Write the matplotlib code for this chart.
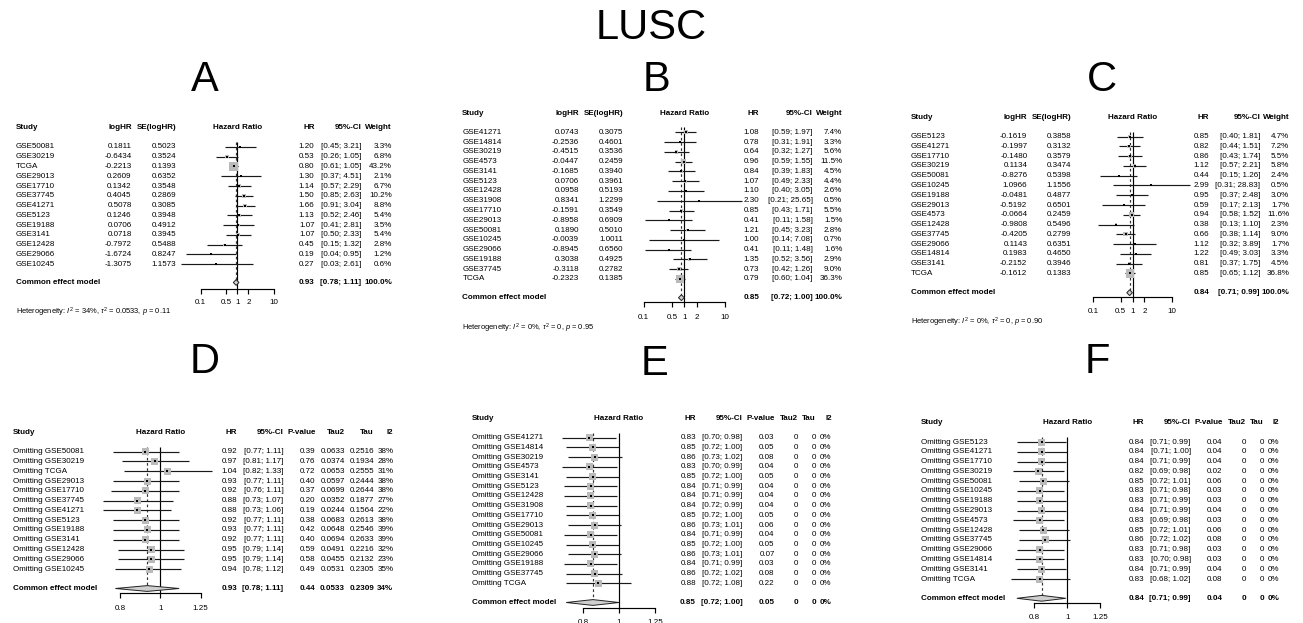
import numpy as np
import matplotlib
matplotlib.use("Agg")
import matplotlib.pyplot as plt
from matplotlib.patches import Polygon
from matplotlib.ticker import NullLocator, FixedLocator

plt.rcParams['font.family'] = ['Liberation Sans', 'DejaVu Sans']
plt.rcParams['mathtext.fontset'] = 'custom'
plt.rcParams['mathtext.rm'] = 'Liberation Sans'
plt.rcParams['mathtext.it'] = 'Liberation Sans:italic'
plt.rcParams['mathtext.bf'] = 'Liberation Sans:bold'

# ---------------- data: pooled meta-analyses ----------------
a_studies = ["GSE50081", "GSE30219", "TCGA", "GSE29013", "GSE17710", "GSE37745", "GSE41271",
             "GSE5123", "GSE19188", "GSE3141", "GSE12428", "GSE29066", "GSE10245"]
a_loghr = [0.1811, -0.6434, -0.2213, 0.2609, 0.1342, 0.4045, 0.5078, 0.1246, 0.0706, 0.0718,
           -0.7972, -1.6724, -1.3075]
a_se = [0.5023, 0.3524, 0.1393, 0.6352, 0.3548, 0.2869, 0.3085, 0.3948, 0.4912, 0.3945,
        0.5488, 0.8247, 1.1573]
a_hr = [1.20, 0.53, 0.80, 1.30, 1.14, 1.50, 1.66, 1.13, 1.07, 1.07, 0.45, 0.19, 0.27]
a_lo = [0.45, 0.26, 0.61, 0.37, 0.57, 0.85, 0.91, 0.52, 0.41, 0.50, 0.15, 0.04, 0.03]
a_hi = [3.21, 1.05, 1.05, 4.51, 2.29, 2.63, 3.04, 2.46, 2.81, 2.33, 1.32, 0.95, 2.61]
a_weight = [3.3, 6.8, 43.2, 2.1, 6.7, 10.2, 8.8, 5.4, 3.5, 5.4, 2.8, 1.2, 0.6]
a_pooled = [0.93, 0.78, 1.11]
a_het = [34, 0.0533, 0.11]

b_studies = ["GSE41271", "GSE14814", "GSE30219", "GSE4573", "GSE3141", "GSE5123", "GSE12428",
             "GSE31908", "GSE17710", "GSE29013", "GSE50081", "GSE10245", "GSE29066", "GSE19188",
             "GSE37745", "TCGA"]
b_loghr = [0.0743, -0.2536, -0.4515, -0.0447, -0.1685, 0.0706, 0.0958, 0.8341, -0.1591, -0.8958,
           0.1890, -0.0039, -0.8945, 0.3038, -0.3118, -0.2323]
b_se = [0.3075, 0.4601, 0.3536, 0.2459, 0.3940, 0.3961, 0.5193, 1.2299, 0.3549, 0.6909,
        0.5010, 1.0011, 0.6560, 0.4925, 0.2782, 0.1385]
b_hr = [1.08, 0.78, 0.64, 0.96, 0.84, 1.07, 1.10, 2.30, 0.85, 0.41, 1.21, 1.00, 0.41, 1.35, 0.73, 0.79]
b_lo = [0.59, 0.31, 0.32, 0.59, 0.39, 0.49, 0.40, 0.21, 0.43, 0.11, 0.45, 0.14, 0.11, 0.52, 0.42, 0.60]
b_hi = [1.97, 1.91, 1.27, 1.55, 1.83, 2.33, 3.05, 25.65, 1.71, 1.58, 3.23, 7.08, 1.48, 3.56, 1.26, 1.04]
b_weight = [7.4, 3.3, 5.6, 11.5, 4.5, 4.4, 2.6, 0.5, 5.5, 1.5, 2.8, 0.7, 1.6, 2.9, 9.0, 36.3]
b_pooled = [0.85, 0.72, 1.00]
b_het = [0, 0, 0.95]

c_studies = ["GSE5123", "GSE41271", "GSE17710", "GSE30219", "GSE50081", "GSE10245", "GSE19188",
             "GSE29013", "GSE4573", "GSE12428", "GSE37745", "GSE29066", "GSE14814", "GSE3141", "TCGA"]
c_loghr = [-0.1619, -0.1997, -0.1480, 0.1134, -0.8276, 1.0966, -0.0481, -0.5192, -0.0664, -0.9808,
           -0.4205, 0.1143, 0.1983, -0.2152, -0.1612]
c_se = [0.3858, 0.3132, 0.3579, 0.3474, 0.5398, 1.1556, 0.4877, 0.6501, 0.2459, 0.5496,
        0.2799, 0.6351, 0.4650, 0.3946, 0.1383]
c_hr = [0.85, 0.82, 0.86, 1.12, 0.44, 2.99, 0.95, 0.59, 0.94, 0.38, 0.66, 1.12, 1.22, 0.81, 0.85]
c_lo = [0.40, 0.44, 0.43, 0.57, 0.15, 0.31, 0.37, 0.17, 0.58, 0.13, 0.38, 0.32, 0.49, 0.37, 0.65]
c_hi = [1.81, 1.51, 1.74, 2.21, 1.26, 28.83, 2.48, 2.13, 1.52, 1.10, 1.14, 3.89, 3.03, 1.75, 1.12]
c_weight = [4.7, 7.2, 5.5, 5.8, 2.4, 0.5, 3.0, 1.7, 11.6, 2.3, 9.0, 1.7, 3.3, 4.5, 36.8]
c_pooled = [0.84, 0.71, 0.99]
c_het = [0, 0, 0.90]

# ---------------- data: leave-one-out analyses ----------------
d_studies = ["GSE50081", "GSE30219", "TCGA", "GSE29013", "GSE17710", "GSE37745", "GSE41271",
             "GSE5123", "GSE19188", "GSE3141", "GSE12428", "GSE29066", "GSE10245"]
d_hr = [0.92, 0.97, 1.04, 0.93, 0.92, 0.88, 0.88, 0.92, 0.93, 0.92, 0.95, 0.95, 0.94]
d_lo = [0.77, 0.81, 0.82, 0.77, 0.76, 0.73, 0.73, 0.77, 0.77, 0.77, 0.79, 0.79, 0.78]
d_hi = [1.11, 1.17, 1.33, 1.11, 1.11, 1.07, 1.06, 1.11, 1.11, 1.11, 1.14, 1.14, 1.12]
d_p = [0.39, 0.76, 0.72, 0.40, 0.37, 0.20, 0.19, 0.38, 0.42, 0.40, 0.59, 0.58, 0.49]
d_tau2 = [0.0633, 0.0374, 0.0653, 0.0597, 0.0699, 0.0352, 0.0244, 0.0683, 0.0648, 0.0694,
          0.0491, 0.0455, 0.0531]
d_tau = [0.2516, 0.1934, 0.2555, 0.2444, 0.2644, 0.1877, 0.1564, 0.2613, 0.2546, 0.2633,
         0.2216, 0.2132, 0.2305]
d_i2 = [38, 28, 31, 38, 38, 27, 22, 38, 39, 39, 32, 23, 35]
d_pooled = [0.93, 0.78, 1.11, 0.44, 0.0533, 0.2309, 34]

e_studies = ["GSE41271", "GSE14814", "GSE30219", "GSE4573", "GSE3141", "GSE5123", "GSE12428",
             "GSE31908", "GSE17710", "GSE29013", "GSE50081", "GSE10245", "GSE29066", "GSE19188",
             "GSE37745", "TCGA"]
e_hr = [0.83, 0.85, 0.86, 0.83, 0.85, 0.84, 0.84, 0.84, 0.85, 0.86, 0.84, 0.85, 0.86, 0.84, 0.86, 0.88]
e_lo = [0.70, 0.72, 0.73, 0.70, 0.72, 0.71, 0.71, 0.72, 0.72, 0.73, 0.71, 0.72, 0.73, 0.71, 0.72, 0.72]
e_hi = [0.98, 1.00, 1.02, 0.99, 1.00, 0.99, 0.99, 0.99, 1.00, 1.01, 0.99, 1.00, 1.01, 0.99, 1.02, 1.08]
e_p = [0.03, 0.05, 0.08, 0.04, 0.05, 0.04, 0.04, 0.04, 0.05, 0.06, 0.04, 0.05, 0.07, 0.03, 0.08, 0.22]
e_tau2 = [0] * 16
e_tau = [0] * 16
e_i2 = [0] * 16
e_pooled = [0.85, 0.72, 1.00, 0.05, 0, 0, 0]

f_studies = ["GSE5123", "GSE41271", "GSE17710", "GSE30219", "GSE50081", "GSE10245", "GSE19188",
             "GSE29013", "GSE4573", "GSE12428", "GSE37745", "GSE29066", "GSE14814", "GSE3141", "TCGA"]
f_hr = [0.84, 0.84, 0.84, 0.82, 0.85, 0.83, 0.83, 0.84, 0.83, 0.85, 0.86, 0.83, 0.83, 0.84, 0.83]
f_lo = [0.71, 0.71, 0.71, 0.69, 0.72, 0.71, 0.71, 0.71, 0.69, 0.72, 0.72, 0.71, 0.70, 0.71, 0.68]
f_hi = [0.99, 1.00, 0.99, 0.98, 1.01, 0.98, 0.99, 0.99, 0.98, 1.01, 1.02, 0.98, 0.98, 0.99, 1.02]
f_p = [0.04, 0.04, 0.04, 0.02, 0.06, 0.03, 0.03, 0.04, 0.03, 0.06, 0.08, 0.03, 0.03, 0.04, 0.08]
f_tau2 = [0] * 15
f_tau = [0] * 15
f_i2 = [0] * 15
f_pooled = [0.84, 0.71, 0.99, 0.04, 0, 0, 0]

wide_ticks = [0.1, 0.5, 1, 2, 10]
narrow_ticks = [0.8, 1, 1.25]

# ---------------- figure setup ----------------
W, H = 1303, 623
FS = 5.8
LW = 0.85
fig = plt.figure(figsize=(W / 100, H / 100), dpi=100)
ov = fig.add_axes([0, 0, 1, 1])
ov.set_xlim(0, W)
ov.set_ylim(H, 0)
ov.axis('off')


def tx(x, y, s, ha='left', bold=False, size=FS, va='center'):
    ov.text(x, y, s, ha=ha, va=va, fontsize=size,
            fontweight='bold' if bold else 'normal', color='black')


def fmt_ci(lo, hi):
    return f"[{lo:.2f}; {hi:.2f}]"


def fmt_tau(v):
    return "0" if v == 0 else f"{v:.4f}"


def forest_axes(lay):
    xl, xr, yt, yb = lay['xl'], lay['xr'], lay['yt'], lay['yb']
    x1, k, y0, dy = lay['x1'], lay['k'], lay['y0'], lay['dy']
    ax = fig.add_axes([xl / W, 1 - yb / H, (xr - xl) / W, (yb - yt) / H])
    ax.set_xscale('log')
    ax.set_xlim(10 ** ((xl - x1) / k), 10 ** ((xr - x1) / k))
    ax.set_ylim((yb - y0) / dy, (yt - y0) / dy)
    ax.patch.set_visible(False)
    for s in ('top', 'left', 'right'):
        ax.spines[s].set_visible(False)
    ax.yaxis.set_major_locator(NullLocator())
    ax.xaxis.set_minor_locator(NullLocator())
    return ax


def draw_marks(lay, hr, lo, hi, box_px, pooled, ticks):
    ax = forest_axes(lay)
    y0, dy = lay['y0'], lay['dy']
    rows = np.arange(len(hr))
    rc = (lay['yc'] - y0) / dy
    ra = (lay['ya'] - y0) / dy
    rl = (lay['yl'] - y0) / dy
    est, plo, phi = pooled[0], pooled[1], pooled[2]
    h = 2.9 / dy
    ax.vlines(1, -0.5, ra, colors='black', lw=LW, zorder=1, clip_on=False)
    ax.vlines(est, -0.5, rc - h, colors='#333333', lw=LW, linestyles=(0, (2.2, 2.2)),
              zorder=1, clip_on=False)
    ax.hlines(rows, lo, hi, colors='#1a1a1a', lw=LW, zorder=2, clip_on=False)
    ax.scatter(hr, rows, marker='s', s=(np.asarray(box_px) * 0.72) ** 2, c='#bababa',
               linewidths=0, zorder=3, clip_on=False)
    ax.scatter(hr, rows, marker='s', s=(1.4 * 0.72) ** 2, c='black', linewidths=0,
               zorder=4, clip_on=False)
    ax.add_patch(Polygon([(plo, rc), (est, rc - h), (phi, rc), (est, rc + h)], closed=True,
                         fc='#cfcfcf', ec='#222222', lw=0.7, zorder=3, clip_on=False))
    sp = ax.spines['bottom']
    sp.set_position(('data', ra))
    sp.set_bounds(ticks[0], ticks[-1])
    sp.set_linewidth(LW)
    ax.xaxis.set_major_locator(FixedLocator(ticks))
    ax.tick_params(axis='x', direction='out', length=3.3, width=LW, labelbottom=False)
    for t in ticks:
        ax.text(t, rl, f"{t:g}", ha='center', va='center', fontsize=FS, clip_on=False)


def meta_panel(lay, studies, loghr, se, hr, lo, hi, weight, pooled, het):
    c, hy, y0, dy = lay['cols'], lay['hy'], lay['y0'], lay['dy']
    tx(c['study'], hy, 'Study', 'left', True)
    tx(c['loghr'], hy, 'logHR', 'right', True)
    tx(c['se'], hy, 'SE(logHR)', 'right', True)
    tx(lay['x1'], hy, 'Hazard Ratio', 'center', True)
    tx(c['hr'], hy, 'HR', 'right', True)
    tx(c['ci'], hy, '95%-CI', 'right', True)
    tx(c['w'], hy, 'Weight', 'right', True)
    for i, name in enumerate(studies):
        y = y0 + i * dy
        tx(c['study'], y, name)
        tx(c['loghr'], y, f"{loghr[i]:.4f}", 'right')
        tx(c['se'], y, f"{se[i]:.4f}", 'right')
        tx(c['hr'], y, f"{hr[i]:.2f}", 'right')
        tx(c['ci'], y, fmt_ci(lo[i], hi[i]), 'right')
        tx(c['w'], y, f"{weight[i]:.1f}%", 'right')
    yc = lay['yc']
    tx(c['study'], yc, 'Common effect model', 'left', True)
    tx(c['hr'], yc, f"{pooled[0]:.2f}", 'right', True)
    tx(c['ci'], yc, fmt_ci(pooled[1], pooled[2]), 'right', True)
    tx(c['w'], yc, f"{100:.1f}%", 'right', True)
    tx(c['study'], lay['hety'],
       rf"Heterogeneity: $I^2$ = {het[0]}%, $\tau^2$ = {fmt_tau(het[1])}, $p$ = {het[2]:.2f}",
       'left', False, size=5.4)
    wmax = max(weight)
    box = [8.5 * np.sqrt(w / wmax) for w in weight]
    draw_marks(lay, hr, lo, hi, box, pooled, wide_ticks)


def loo_panel(lay, studies, hr, lo, hi, p, tau2, tau, i2, pooled):
    c, hy, y0, dy = lay['cols'], lay['hy'], lay['y0'], lay['dy']
    tx(c['study'], hy, 'Study', 'left', True)
    tx(lay['x1'], hy, 'Hazard Ratio', 'center', True)
    tx(c['hr'], hy, 'HR', 'right', True)
    tx(c['ci'], hy, '95%-CI', 'right', True)
    tx(c['p'], hy, 'P-value', 'right', True)
    tx(c['tau2'], hy, 'Tau2', 'right', True)
    tx(c['tau'], hy, 'Tau', 'right', True)
    tx(c['i2'], hy, 'I2', 'right', True)
    for i, name in enumerate(studies):
        y = y0 + i * dy
        tx(c['study'], y, f"Omitting {name}")
        tx(c['hr'], y, f"{hr[i]:.2f}", 'right')
        tx(c['ci'], y, fmt_ci(lo[i], hi[i]), 'right')
        tx(c['p'], y, f"{p[i]:.2f}", 'right')
        tx(c['tau2'], y, fmt_tau(tau2[i]), 'right')
        tx(c['tau'], y, fmt_tau(tau[i]), 'right')
        tx(c['i2'], y, f"{i2[i]}%", 'right')
    yc = lay['yc']
    tx(c['study'], yc, 'Common effect model', 'left', True)
    tx(c['hr'], yc, f"{pooled[0]:.2f}", 'right', True)
    tx(c['ci'], yc, fmt_ci(pooled[1], pooled[2]), 'right', True)
    tx(c['p'], yc, f"{pooled[3]:.2f}", 'right', True)
    tx(c['tau2'], yc, fmt_tau(pooled[4]), 'right', True)
    tx(c['tau'], yc, fmt_tau(pooled[5]), 'right', True)
    tx(c['i2'], yc, f"{pooled[6]}%", 'right', True)
    draw_marks(lay, hr, lo, hi, [7.0] * len(hr), pooled, narrow_ticks)


# ---------------- panel geometry (pixels) ----------------
lay_a = dict(cols=dict(study=15.7, loghr=131.7, se=176, hr=314.5, ci=361.5, w=392),
             hy=127.8, y0=146.9, dy=9.78, yc=282.5, ya=288.5, yl=302.5, hety=312.3,
             x1=237.3, k=36.8, xl=165, xr=305, yt=125, yb=310)
lay_b = dict(cols=dict(study=462.3, loghr=579, se=623.3, hr=759.3, ci=812.7, w=842.3),
             hy=113.5, y0=132.3, dy=9.78, yc=297.7, ya=301.8, yl=318, hety=328.7,
             x1=684.3, k=40.8, xl=630, xr=750, yt=110, yb=325)
lay_c = dict(cols=dict(study=910.7, loghr=1027.3, se=1071, hr=1209.3, ci=1260, w=1289.3),
             hy=117.5, y0=136.7, dy=9.76, yc=292.7, ya=297.0, yl=312, hety=322.7,
             x1=1132.6, k=39.2, xl=1080, xr=1200, yt=115, yb=320)
lay_d = dict(cols=dict(study=13.3, hr=237.3, ci=283.3, p=315.7, tau2=345, tau=374, i2=393.3),
             hy=432.3, y0=451.7, dy=9.78, yc=588.5, ya=592.8, yl=608.3,
             x1=160.3, k=416.0, xl=100, xr=220, yt=430, yb=615)
lay_e = dict(cols=dict(study=472.3, hr=696, ci=742.3, p=774.7, tau2=798, tau=816.0, i2=831.7),
             hy=418.3, y0=437.7, dy=9.71, yc=602.5, ya=607.7, yl=622.5,
             x1=619.0, k=370.0, xl=555, xr=680, yt=415, yb=623)
lay_f = dict(cols=dict(study=920.7, hr=1144.3, ci=1190.7, p=1222.7, tau2=1246, tau=1264.0, i2=1279.3),
             hy=422.7, y0=442.0, dy=9.79, yc=598.3, ya=602.5, yl=617.3,
             x1=1067.3, k=339.0, xl=1005, xr=1120, yt=420, yb=623)

# ---------------- titles ----------------
tx(651.5, 39, 'LUSC', 'center', False, size=30, va='baseline')
for letter, x, y in [('A', 205, 91), ('B', 656, 91), ('C', 1102, 91),
                     ('D', 205, 373), ('E', 654, 375), ('F', 1097, 373)]:
    tx(x, y, letter, 'center', False, size=30, va='baseline')

# ---------------- panels ----------------
meta_panel(lay_a, a_studies, a_loghr, a_se, a_hr, a_lo, a_hi, a_weight, a_pooled, a_het)
meta_panel(lay_b, b_studies, b_loghr, b_se, b_hr, b_lo, b_hi, b_weight, b_pooled, b_het)
meta_panel(lay_c, c_studies, c_loghr, c_se, c_hr, c_lo, c_hi, c_weight, c_pooled, c_het)
loo_panel(lay_d, d_studies, d_hr, d_lo, d_hi, d_p, d_tau2, d_tau, d_i2, d_pooled)
loo_panel(lay_e, e_studies, e_hr, e_lo, e_hi, e_p, e_tau2, e_tau, e_i2, e_pooled)
loo_panel(lay_f, f_studies, f_hr, f_lo, f_hi, f_p, f_tau2, f_tau, f_i2, f_pooled)

fig.savefig('out.png', dpi=100, facecolor='white')
